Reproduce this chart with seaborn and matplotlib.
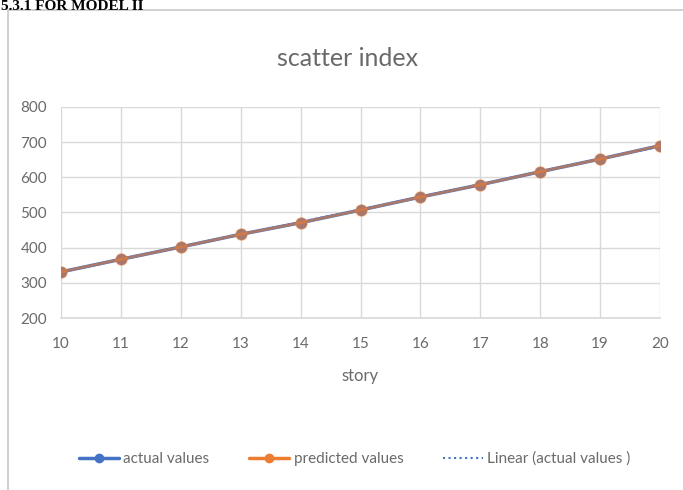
import numpy as np
import pandas as pd
import matplotlib
matplotlib.use('Agg')
import matplotlib.pyplot as plt
import seaborn as sns
from matplotlib.patches import Rectangle

# data
stories = [10, 11, 12, 13, 14, 15, 16, 17, 18, 19, 20]
actual_values = [331, 367, 402, 438, 471, 507, 544, 579, 616, 652, 690]
predicted_values = [331, 367, 402, 438, 471, 507, 544, 579, 616, 652, 690]
y_ticks = [200, 300, 400, 500, 600, 700, 800]

sns.set_theme(style='white')
plt.rcParams['font.family'] = ['Lato', 'DejaVu Sans']

df = pd.DataFrame({'story': stories, 'actual': actual_values, 'predicted': predicted_values})

blue = '#4472C4'
orange = '#ED7D31'
text_col = '#6A6A6A'
grid_col = '#D9D9D9'

fig = plt.figure(figsize=(6.83, 4.90), dpi=100)

# chart frame (runs off at right and bottom like the screenshot)
fig.patches.append(Rectangle((8 / 683, -0.1), 1.0, 1 - 10 / 490 + 0.1, transform=fig.transFigure,
                             fill=False, edgecolor='#C8C8C8', linewidth=1.2))

# heading above the chart
fig.text(0.002, 0.999, '5.3.1 FOR MODEL II', fontsize=11, fontweight='bold',
         family=['Liberation Serif', 'DejaVu Serif'], color='black', va='top', ha='left')

ax = fig.add_axes([61 / 683, 1 - 318 / 490, (660 - 61) / 683, (318 - 107) / 490])

sns.regplot(data=df, x='story', y='actual', scatter=False, ci=None, truncate=True, ax=ax,
            line_kws=dict(color=blue, linestyle=':', linewidth=1.5, zorder=2))
sns.lineplot(data=df, x='story', y='actual', color=blue, marker='o', markersize=8,
             markeredgewidth=0, linewidth=2.5, ax=ax, zorder=3)
sns.lineplot(data=df, x='story', y='predicted', color=orange, marker='o', markersize=9,
             markeredgewidth=0, linewidth=2.0, ax=ax, zorder=4, alpha=0.6)

ax.set_xlim(10, 20)
ax.set_ylim(200, 800)
ax.set_xticks(stories)
ax.set_yticks(y_ticks)
ax.grid(True, color=grid_col, linewidth=1)
ax.set_axisbelow(True)
for side in ['top', 'right', 'left']:
    ax.spines[side].set_visible(False)
ax.spines['bottom'].set_color(grid_col)
ax.spines['bottom'].set_linewidth(1.2)
ax.tick_params(axis='both', colors=text_col, labelsize=11, length=0)
ax.tick_params(axis='x', pad=14)
ax.tick_params(axis='y', pad=10)
ax.set_xlabel('story', fontsize=12, color=text_col, labelpad=12)
ax.set_ylabel('')

fig.text(348 / 683, 1 - 58 / 490, 'scatter index', fontsize=18, color=text_col,
         ha='center', va='center')

handles = [
    plt.Line2D([], [], color=blue, marker='o', markersize=6, linewidth=2.5),
    plt.Line2D([], [], color=orange, marker='o', markersize=6, linewidth=2.5),
    plt.Line2D([], [], color=blue, linestyle=':', linewidth=1.5),
]
labels = ['actual values', 'predicted values', 'Linear (actual values )']
fig.legend(handles, labels, loc='center', bbox_to_anchor=(355 / 683, 1 - 459 / 490), ncol=3,
           frameon=False, fontsize=11, labelcolor=text_col, handlelength=2.6,
           handletextpad=0.3, columnspacing=2.6)

fig.savefig('out.png', dpi=100)
